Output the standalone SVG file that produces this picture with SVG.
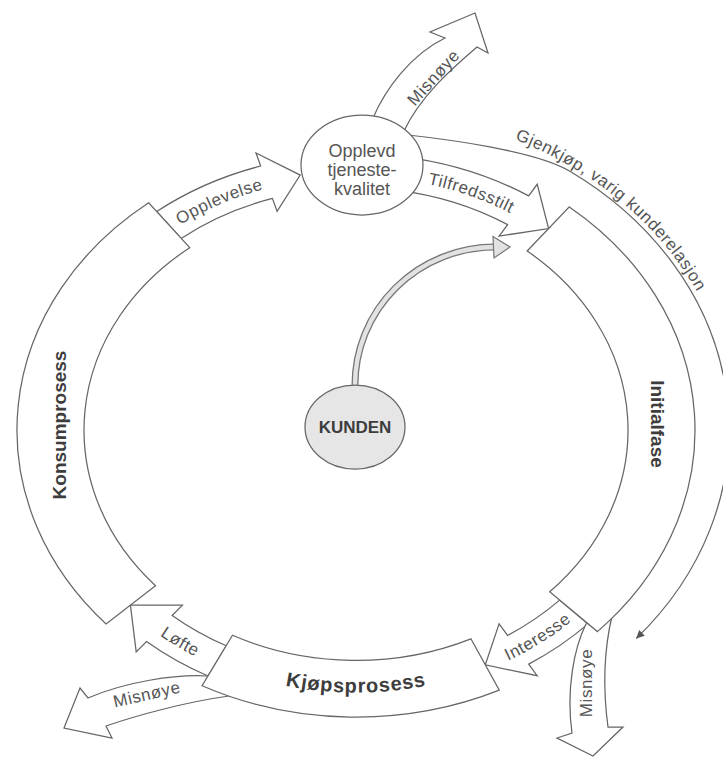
<svg xmlns="http://www.w3.org/2000/svg" width="723" height="757" viewBox="0 0 723 757">
<style>
.seg{fill:#fff;stroke:#666;stroke-width:1.25}
.arr{fill:#fff;stroke:#666;stroke-width:1.25;stroke-linejoin:miter}
.lbl{font-family:"Liberation Sans",Arial,sans-serif;font-size:17px;fill:#555;letter-spacing:0.6px}
.big{font-family:"Liberation Sans",Arial,sans-serif;font-weight:bold;fill:#3d3d3d}
.node{fill:#fff;stroke:#666;stroke-width:1.25}
.ctext{font-family:"Liberation Sans",Arial,sans-serif;font-size:18px;fill:#555}
</style>
<defs>
<marker id="ah" viewBox="0 0 10 10" refX="10" refY="5" markerWidth="13" markerHeight="8" markerUnits="userSpaceOnUse" orient="auto">
<path d="M0,0 L10,5 L0,10 Z" fill="#555"/>
</marker>
<path id="pOpp" d="M180.2,225.1 A299,253.3 0 0 1 263.6,189.1"/>
<path id="pTil" d="M428.3,184.2 A299,253.3 0 0 1 510.0,212.9"/>
<path id="pInt" d="M502.5,663.4 A312,264.3 0 0 0 576.6,616.9"/>
<path id="pLof" d="M143.2,623.3 A312,264.3 0 0 0 214.4,665.5"/>
<path id="pKjo" d="M178.2,645.1 A310,262.6 0 0 0 533.8,645.1"/>
<path id="pGjen" d="M514.8,139.4 A378,320.2 0 0 1 721.1,347.1"/>
</defs>
<rect width="723" height="757" fill="#fff"/>

<g id="connectors">
  <path d="M408,135 C448,139.4 535.5,150.8 569.9,171.2 A373,315.9 0 0 1 636.2,638.5" fill="none" stroke="#666" stroke-width="1.25" marker-end="url(#ah)"/>
  <text class="lbl"><textPath href="#pGjen">Gjenkjøp, varig kunderelasjon</textPath></text>

  <path class="arr" d="M373,118 C385,90 410,55 445,38 L430,32 L475,13 L488,53 L477,47 C450,70 420,97 404,131 Z"/>
  <text class="lbl" transform="translate(434,78) rotate(-48)" y="5" text-anchor="middle">Misnøye</text>

  <path class="arr" d="M181.1,238.4 A286,242.2 0 0 1 272.4,198.4 L277.1,211.3 L300.2,175.1 L256.0,153.0 L260.7,166.0 A326,276.1 0 0 0 156.7,211.5 Z"/>
  <text class="lbl" text-anchor="middle"><textPath href="#pOpp" startOffset="50%">Opplevelse</textPath></text>

  <path class="arr" d="M401.4,156.6 A326,276.1 0 0 1 528.7,195.9 L537.2,184.3 L548.6,228.6 L499.1,236.1 L507.6,224.6 A286,242.2 0 0 0 395.8,190.1 Z"/>
  <text class="lbl" text-anchor="middle" letter-spacing="0.3"><textPath href="#pTil" startOffset="50%">Tilfredsstilt</textPath></text>

  <path class="arr" d="M559.6,600.1 A286,242.2 0 0 1 507.6,635.4 L499.1,623.9 L485.3,664.9 L537.2,675.7 L528.7,664.1 A326,276.1 0 0 0 588.1,623.9 Z"/>
  <text class="lbl" text-anchor="middle"><textPath href="#pInt" startOffset="50%">Interesse</textPath></text>

  <path class="arr" d="M586,624 C574,648 566,690 572,733 L557,738 L593,756 L623,727 L608,727 C603,690 604,650 612,616 Z"/>
  <text class="lbl" transform="translate(587,683) rotate(-90)" y="5" text-anchor="middle">Misnøye</text>

  <path class="arr" d="M226.2,645.8 A286,242.2 0 0 1 172.2,615.5 L182.4,605.2 L130.4,605.1 L136.2,651.9 L146.5,641.5 A326,276.1 0 0 0 208.0,676.0 Z"/>
  <text class="lbl" text-anchor="middle"><textPath href="#pLof" startOffset="50%">Løfte</textPath></text>

  <path class="arr" d="M208,676 C175,674 125,682 88,698 L80,688 L64,728 L112,738 L106,726 C135,716 185,702 229,696 Z"/>
  <text class="lbl" transform="translate(147,695) rotate(-13)" y="5" text-anchor="middle">Misnøye</text>

  <path d="M355,385 A140,138 0 0 1 495,247" fill="none" stroke="#777" stroke-width="7"/>
  <path d="M355,385 A140,138 0 0 1 495,247" fill="none" stroke="#e2e2e2" stroke-width="4.4"/>
  <polygon points="493,236.5 510,247 494,258" fill="#e2e2e2" stroke="#777" stroke-width="1.2"/>
</g>

<g id="konsumprosess">
  <path class="seg" d="M106.1,624.0 A339,287.1 0 0 1 148.7,202.8 L189.7,247.7 A272,230.4 0 0 0 155.5,585.7 Z"/>
  <text class="big" font-size="19" transform="translate(60,425) rotate(-90)" y="6" text-anchor="middle">Konsumprosess</text>
</g>

<g id="initialfase">
  <path class="seg" d="M569.3,206.9 A339,287.1 0 0 1 597.4,631.6 L549.7,591.8 A272,230.4 0 0 0 527.2,251.0 Z"/>
  <text class="big" font-size="19" transform="translate(657,424) rotate(90)" y="6" text-anchor="middle">Initialfase</text>
</g>

<g id="kjopsprosess">
  <path class="seg" d="M499.3,690.2 A339,287.1 0 0 1 202.1,685.8 L232.5,635.3 A272,230.4 0 0 0 470.9,638.8 Z"/>
  <text class="big" font-size="20" letter-spacing="0.8" text-anchor="middle"><textPath href="#pKjo" startOffset="50%">Kjøpsprosess</textPath></text>
</g>

<g id="opplevd">
  <ellipse class="node" cx="362" cy="165" rx="61" ry="50"/>
  <text class="ctext" x="362" y="157" text-anchor="middle">Opplevd</text>
  <text class="ctext" x="362" y="176" text-anchor="middle">tjeneste-</text>
  <text class="ctext" x="362" y="195" text-anchor="middle">kvalitet</text>
</g>

<g id="kunden">
  <ellipse cx="355" cy="427" rx="50" ry="42" fill="#e6e6e6" stroke="#666" stroke-width="1.25"/>
  <text class="big" font-size="17" x="355" y="433" text-anchor="middle" fill="#333">KUNDEN</text>
</g>
</svg>
